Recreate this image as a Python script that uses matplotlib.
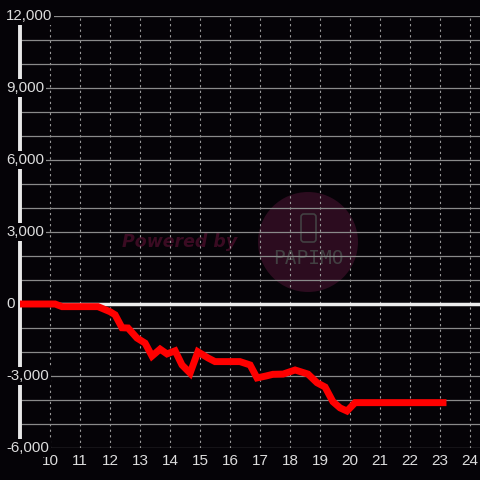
import matplotlib
matplotlib.use("Agg")
import matplotlib.pyplot as plt
import matplotlib.transforms as mtransforms
from matplotlib.patches import Circle, FancyBboxPatch
from matplotlib.ticker import FixedLocator, MultipleLocator, NullFormatter

# data (hour of day, cumulative value)
hours = [9.0, 10.17, 10.4, 11.6, 12.0, 12.17, 12.4, 12.6, 12.9, 13.17, 13.4, 13.67,
         13.9, 14.17, 14.4, 14.67, 14.93, 15.27, 15.5, 16.33, 16.67, 16.9, 17.2,
         17.43, 17.77, 18.17, 18.6, 18.9, 19.17, 19.43, 19.67, 19.9, 20.17, 23.1]
values = [0, 0, -110, -110, -320, -450, -990, -1000, -1420, -1630, -2170, -1880,
          -2080, -1950, -2540, -2880, -1990, -2250, -2400, -2400, -2540, -3080, -3000,
          -2930, -2920, -2750, -2920, -3280, -3460, -4070, -4330, -4460, -4110, -4110]
x_ticks = list(range(10, 25))
y_label_ticks = [-6000, -3000, 0, 3000, 6000, 9000, 12000]

plt.rcParams["font.family"] = ["Liberation Sans", "DejaVu Sans"]

BG = "#050307"
fig = plt.figure(figsize=(4.8, 4.8), dpi=100, facecolor=BG)
ax = fig.add_axes([20/480, 32/480, 460/480, 432/480])
ax.patch.set_visible(False)

# watermark (figure pixel coords -> fraction)
def fx(p): return p/480
def fy(p): return 1 - p/480
fig.patches.append(Circle((fx(308), fy(242)), 50/480, transform=fig.transFigure,
                          facecolor="#2c0c1f", edgecolor="none", zorder=-1))
fig.patches.append(FancyBboxPatch((fx(301), fy(242)), 15/480, 28/480,
                                  boxstyle="round,pad=0,rounding_size=0.006",
                                  transform=fig.transFigure, facecolor="none",
                                  edgecolor="#424042", lw=1.2, zorder=-1))
fig.text(fx(180), fy(242), "Powered by", color="#3a0b22", fontsize=12.5,
         family="DejaVu Sans", fontweight="bold", fontstyle="italic",
         ha="center", va="center", zorder=-1)
fig.text(fx(308), fy(258), "PAPIMO", color="#424042", fontsize=14,
         family="DejaVu Sans Mono", ha="center", va="center", zorder=-1)

ax.set_xlim(9, 9 + 460/30)
ax.set_ylim(-6000, 12000)

ax.xaxis.set_major_locator(FixedLocator(x_ticks))
ax.yaxis.set_major_locator(FixedLocator(y_label_ticks))
ax.yaxis.set_minor_locator(MultipleLocator(1000))
ax.yaxis.set_major_formatter(NullFormatter())

ax.grid(axis="x", which="major", color="#9a9a9a", linestyle=(0, (2, 3)), lw=0.8)
ax.grid(axis="y", which="both", color="#8a8a8a", linestyle="-", lw=0.9)

for s in ["top", "right", "bottom"]:
    ax.spines[s].set_visible(False)
ax.spines["left"].set_color("#e8e8e8")
ax.spines["left"].set_linewidth(2.8)
ax.spines["left"].set_zorder(2.5)

ax.axhline(0, color="#eeeeee", lw=2.5, zorder=2)

ax.tick_params(axis="both", which="both", length=0, colors="#dddddd", labelsize=11)
ax.tick_params(axis="x", pad=4)

# y labels drawn on top of the spine with a dark background
trans = mtransforms.blended_transform_factory(ax.transAxes, ax.transData)
for v in y_label_ticks:
    ax.text(-14/460, v, f"{v:,}", transform=trans, ha="left", va="center",
            color="#dddddd", fontsize=10.8, clip_on=False, zorder=6,
            bbox=dict(facecolor=BG, edgecolor="none", pad=1.5))

ax.plot(hours, values, color="#ff0000", lw=5, solid_joinstyle="miter",
        solid_capstyle="projecting", zorder=4)

fig.savefig("out.png", dpi=100, facecolor=BG)
